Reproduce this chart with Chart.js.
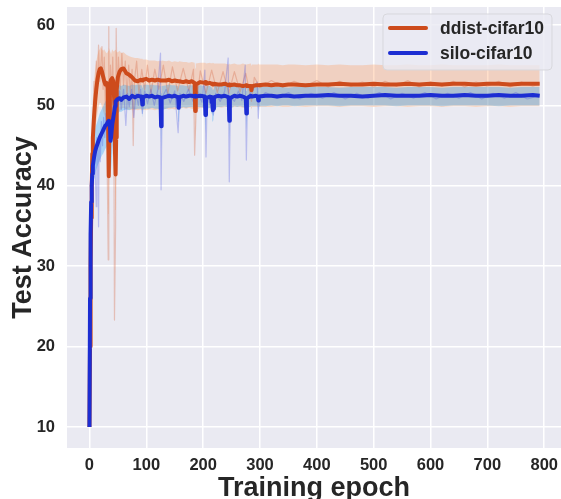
<!DOCTYPE html>
<html><head><meta charset="utf-8">
<script src="https://cdn.jsdelivr.net/npm/chart.js@4.4.0/dist/chart.umd.min.js"></script>
<style>html,body{margin:0;padding:0;background:#fff;overflow:hidden}canvas{display:block}</style>
</head><body>
<canvas id="c" width="561" height="499"></canvas>
<script>
// ---- data ----
const seriesNames = ["ddist-cifar10", "silo-cifar10"];
const xTicks = [0, 100, 200, 300, 400, 500, 600, 700, 800];
const yTicks = [10, 20, 30, 40, 50, 60];

const epochs = [0,1,2,3,4,5,6,8,10,12, 14,16,18,20,22,24,26,28,30,32, 33,34,35,36,37,38,40,42,44,45,
  46,47,48,50,53,56,60,65,70,75, 80,85,90,92,93,94,100,105,110,115, 120,125,126,127,135,140,145,150,156,157,
  158,165,170,175,180,185,186,187,195,203, 204,205,212,214,215,216,217,218,219,226, 232,238,245,246,247,255,260,265,270,275,
  276,277,284,285,286,293,296,297,298,310, 320,330,340,350,360,380,400,420,440,460, 480,500,520,540,560,580,600,620,640,660,
  680,700,720,740,760,780,792];

const ddistMean = [10,20,30,36,40,44,46,48.5,50.5,52, 53.2,54,54.5,54.6,54.2,53.6,53,52.6,52.8,52.2, 47,41.2,47,52.5,53,53.2,53.4,53,50,44,
  41.4,46,52,53.5,54.2,54.5,54.6,54,53.8,53.5, 53.1,53,53.2,53.1,53.1,53.2,53.3,53.1,53.2,53.1, 53.2,53.1,53.1,53.1,53.1,53.2,53,53.1,53,53,
  53,52.9,53,52.9,53,52.8,49.3,52.6,52.9,52.8, 52.9,52.7,52.8,52.7,52.7,52.7,52.6,52.6,52.7,52.6, 52.6,52.7,52.5,52.6,52.5,52.6,52.5,52.5,52.4,52.5,
  52.5,52.4,52.4,51.9,52.4,52.5,52.5,52.5,52.5,52.6, 52.5,52.6,52.5,52.6,52.6,52.5,52.6,52.6,52.7,52.6, 52.6,52.7,52.6,52.6,52.7,52.6,52.7,52.6,52.7,52.7,
  52.6,52.7,52.7,52.6,52.7,52.7,52.7];
const ddistUpper = [10,22,33,39,43,47.5,50.5,53,54.5,55.5, 56.2,56.8,57,57.3,57,56.8,57,56.7,56.5,56.6, 56.8,57.2,57,56.8,56.6,56.4,57,56.7,56.8,56.9,
  57,56.8,56.6,56.6,56.8,56.5,56.6,56.3,56.1,56, 55.9,55.9,55.8,55.8,55.8,55.7,55.7,55.6,55.6,55.6, 55.5,55.6,55.5,55.6,55.5,55.6,55.4,55.5,55.4,55.4,
  55.5,55.4,55.4,55.3,55.4,55.3,54.6,55.2,55.3,55.3, 55.3,55.2,55.3,55.2,55.2,55.3,55.2,55.3,55.2,55.2, 55.2,55.2,55.1,55.2,55.1,55.2,55.1,55.1,55.2,55.1,
  55.1,55.1,55.2,54.9,55.1,55.1,55.1,55.2,55.1,55.1, 55.1,55.1,55,55.1,55.1,55,55.1,55,55.1,55, 55,55.1,55,55,55.1,55,55,55.1,55,55,
  55,55,55.1,55,55,55,55];
const ddistLower = [10,18,27,33,37,41,43.5,45.5,47,48, 49,49.8,50.3,50.3,49.8,49.3,48.8,48.5,48.6,48, 42,36.5,42,47.5,48,48.2,48.4,48,45,39.5,
  37,41,47,49,49.3,49.6,49.7,49.5,49.5,49.4, 49.5,49.4,49.5,49.4,49.4,49.5,49.4,49.5,49.5,49.4, 49.5,49.4,49.5,49.5,49.6,49.5,49.6,49.5,49.6,49.6,
  49.6,49.7,49.6,49.7,49.6,49.5,45.5,49.4,49.7,49.7, 49.7,49.8,49.7,49.8,49.8,49.7,49.8,49.7,49.8,49.8, 49.7,49.8,49.8,49.8,49.7,49.8,49.8,49.8,49.7,49.8,
  49.8,49.8,49.8,49.5,49.8,49.8,49.8,49.9,49.8,49.8, 49.8,49.9,49.8,49.8,49.9,49.8,49.9,49.9,49.8,49.9, 49.9,49.8,49.9,49.9,49.8,49.9,49.9,49.8,49.9,49.9,
  49.8,49.9,49.9,49.8,49.9,49.9,49.9];

const siloMean = [10,26,34,38,40,41.5,42.5,43.5,44.3,44.8, 45.2,45.6,46,46.3,46.6,46.9,47.2,47.5,47.6,47.9, 48,48.1,48,47.5,45.6,46,47.6,48.5,49.4,49.9,
  50.5,50.6,50.7,50.8,50.9,50.7,51,51.1,50.8,51.2, 51,51.2,51.1,51.1,50.1,51,51.2,51.1,51.2,51, 51.1,51,47.4,50.9,51.1,51.2,51.1,51.2,51,49.7,
  51,51.2,51.1,51.2,51.2,51.1,51.2,51.1,51.2,51.1, 48.8,50.9,51.1,51,50.4,51,49.4,49.6,51,51.2, 51.1,51.2,51,48.1,50.9,51.2,51.1,51.2,51.1,50.9,
  49,50.9,51.2,51.1,51.1,51.2,51.1,50.6,51.1,51.2, 51.2,51.1,51.2,51.2,51.1,51.2,51.2,51.3,51.2,51.2, 51.1,51.2,51.3,51.2,51.2,51.2,51.3,51.2,51.2,51.3,
  51.2,51.2,51.3,51.2,51.2,51.3,51.2];
const siloUpper = [10,28,36.5,40.5,42.5,44,45,46,47,47.6, 48,48.5,49,49.3,49.6,49.9,50.2,50.5,50.7,50.9, 51,51.1,51,50.6,50,50.2,50.8,51.4,51.8,52,
  52.2,52.2,52.3,52.4,52.5,52.4,52.6,52.5,52.4,52.6, 52.5,52.6,52.5,52.5,52.2,52.5,52.6,52.5,52.6,52.5, 52.5,52.4,51.5,52.4,52.5,52.6,52.5,52.5,52.4,52,
  52.5,52.5,52.4,52.5,52.5,52.4,52.5,52.4,52.5,52.4, 51.8,52.4,52.4,52.3,52.2,52.3,51.9,52,52.4,52.4, 52.4,52.4,52.3,51.6,52.3,52.4,52.3,52.4,52.3,52.3,
  51.8,52.3,52.4,52.3,52.3,52.3,52.3,52.2,52.3,52.3, 52.3,52.3,52.3,52.2,52.3,52.3,52.3,52.3,52.2,52.3, 52.3,52.3,52.3,52.2,52.3,52.3,52.3,52.2,52.3,52.3,
  52.3,52.3,52.3,52.2,52.3,52.3,52.3];
const siloLower = [10,24,31.5,35.5,37.5,39,39.8,40.8,41.5,42, 42.4,42.8,43.2,43.5,43.8,44,44.3,44.6,44.8,45, 45.1,45.2,45,43.5,41.5,42,44,45.6,47,47.8,
  48.3,48.5,48.8,49,49.2,49.2,49.4,49.5,49.4,49.6, 49.5,49.6,49.6,49.6,48.5,49.5,49.6,49.6,49.7,49.6, 49.6,49.5,44.5,49.4,49.6,49.7,49.7,49.8,49.6,48,
  49.6,49.8,49.7,49.8,49.8,49.7,49.8,49.8,49.8,49.7, 46.5,49.5,49.7,49.5,49,49.5,48,48.2,49.6,49.8, 49.8,49.9,49.7,45.5,49.6,49.9,49.8,49.9,49.8,49.7,
  47,49.6,49.9,49.9,49.9,49.9,49.9,49.3,49.9,49.9, 50,49.9,50,50,49.9,50,50,50,49.9,50, 50,50,50,49.9,50,50,50,49.9,50,50,
  50,50,49.9,50,50,50,50];

const ddistRawEpochs = [0,2,4,6,8,10,12,14,16,18, 20,22,24,26,28,30,31,33,34,35, 37,39,41,43,44,46,47,49,51,54,
  57,60,63,66,69,72,75,77,79,83, 87,92,97,102,108,115,122,130,138,146, 155,165,175,183,185,188,195,205,215,225,
  235,245,255,265,275,285,290,300,320,340, 360,380,400,420,440,460,480,500,520,540, 560,580,600,620,640,660,680,700,720,740, 760,780,792];
const ddistRaw = [10,29,41,48,53,49,55.5,51.5,57.5,53, 55,57.3,52,56,50,47,44,30.8,59.8,45, 55,51,56,47,23.3,35,59.6,50,56,52,
  56.5,52.5,55.5,51,55,51.5,54.5,45,53,55.5, 51.5,54.5,52,55,51.5,54.5,52,55,51.5,54.8, 51.8,54.6,51.8,54.5,43.8,50,54.3,51.5,54.4,51.6,
  54.2,51.5,54.2,51.7,54,50.5,53.5,52.2,53.1,52.3, 53,52.4,53.1,52.3,53,52.4,52.9,52.3,53,52.4, 53.1,52.3,52.9,52.4,53,52.3,52.9,52.4,53,52.3, 52.9,52.4,52.7];

const siloRawEpochs = [0,2,4,6,8,10,12,13,15,16, 17,19,21,23,25,27,29,31,33,35, 37,39,41,43,45,47,50,53,56,60,
  64,67,70,74,78,82,86,90,93,97, 102,108,114,120,125,126,128,135,142,150, 156,159,166,174,182,190,198,203,205,207,
  213,218,222,230,238,244,246,248,255,262, 268,274,276,278,286,295,297,299,310,330, 350,370,390,410,430,450,470,490,510,530,
  550,570,590,610,630,650,670,690,710,730, 750,770,792];
const siloRaw = [10,30,40,41,45,42,37.4,46,44,34.9, 46,43,48,45,48.5,46,49,47,50,46.5, 44,49,47.5,51,49.5,52,50,51.8,49.5,52,
  47.5,51.5,49.8,52,48.5,51.5,50,52,49,51.8, 50.2,52,50,51.8,56.5,39.5,51,52,50.3,51.8, 46.6,51.5,50.5,52,50.5,51.8,50.4,54.4,43.6,51,
  50,48.8,51.5,50.5,51.8,55.9,40.5,51,50.5,51.8, 50.6,55,43.2,51,51.8,52.9,48.4,51,51.6,50.9, 51.6,50.8,51.5,50.9,51.6,50.8,51.5,50.9,51.6,50.8,
  51.5,50.9,51.6,50.8,51.5,50.9,51.6,50.8,51.5,50.9, 51.6,50.8,51.2];

// ---- styles ----
const ORANGE = '#CD4B1C';
const BLUE = '#1C2DD2';
const FONT = '"Liberation Sans", Arial, sans-serif';
const TEXT = '#262626';

const pts = (xs, ys) => xs.map((x, i) => ({x: x, y: ys[i]}));

const bgPlugin = {
  id: 'bg',
  beforeDraw(chart) {
    const {ctx, chartArea: a} = chart;
    ctx.save();
    ctx.fillStyle = '#EAEAF2';
    ctx.fillRect(a.left, a.top, a.right - a.left, a.bottom - a.top);
    ctx.restore();
  }
};

const decoPlugin = {
  id: 'deco',
  afterDraw(chart) {
    const ctx = chart.ctx;
    const a = chart.chartArea;
    ctx.save();
    ctx.fillStyle = TEXT;
    ctx.font = 'bold 27px ' + FONT;
    ctx.textAlign = 'center';
    ctx.textBaseline = 'alphabetic';
    ctx.fillText('Training epoch', (a.left + a.right) / 2, 496);
    ctx.save();
    ctx.translate(31, (a.top + a.bottom) / 2);
    ctx.rotate(-Math.PI / 2);
    ctx.fillText('Test Accuracy', 0, 0);
    ctx.restore();
    // legend
    const bx = 383, by = 14, bw = 169, bh = 56, r = 4;
    ctx.beginPath();
    ctx.moveTo(bx + r, by);
    ctx.arcTo(bx + bw, by, bx + bw, by + bh, r);
    ctx.arcTo(bx + bw, by + bh, bx, by + bh, r);
    ctx.arcTo(bx, by + bh, bx, by, r);
    ctx.arcTo(bx, by, bx + bw, by, r);
    ctx.closePath();
    ctx.fillStyle = 'rgba(234,234,242,0.8)';
    ctx.fill();
    ctx.strokeStyle = 'rgba(214,214,218,0.9)';
    ctx.lineWidth = 1;
    ctx.stroke();
    const items = [[seriesNames[0], ORANGE, 28], [seriesNames[1], BLUE, 53]];
    ctx.font = 'bold 17.5px ' + FONT;
    ctx.textAlign = 'left';
    ctx.textBaseline = 'middle';
    for (const [label, col, y] of items) {
      ctx.strokeStyle = col;
      ctx.lineWidth = 4;
      ctx.lineCap = 'round';
      ctx.beginPath();
      ctx.moveTo(390, y);
      ctx.lineTo(426, y);
      ctx.stroke();
      ctx.fillStyle = TEXT;
      ctx.fillText(label, 440, y + 1);
    }
    ctx.restore();
  }
};

const lineDefaults = {pointRadius: 0, pointHoverRadius: 0, tension: 0, fill: false, borderJoinStyle: 'round'};

new Chart(document.getElementById('c'), {
  type: 'line',
  data: {
    datasets: [
      Object.assign({}, lineDefaults, {label: 'ddistUpper', data: pts(epochs, ddistUpper), borderWidth: 0, borderColor: 'rgba(0,0,0,0)', fill: '+1', backgroundColor: 'rgba(255,150,80,0.3)', order: 7}),
      Object.assign({}, lineDefaults, {label: 'ddistLower', data: pts(epochs, ddistLower), borderWidth: 0, borderColor: 'rgba(0,0,0,0)', order: 6}),
      Object.assign({}, lineDefaults, {label: 'siloUpper', data: pts(epochs, siloUpper), borderWidth: 0, borderColor: 'rgba(0,0,0,0)', fill: '+1', backgroundColor: 'rgba(20,155,250,0.3)', order: 5}),
      Object.assign({}, lineDefaults, {label: 'siloLower', data: pts(epochs, siloLower), borderWidth: 0, borderColor: 'rgba(0,0,0,0)', order: 4}),
      Object.assign({}, lineDefaults, {label: 'ddistRaw', data: pts(ddistRawEpochs, ddistRaw), borderWidth: 1.2, borderColor: 'rgba(215,110,75,0.35)', order: 3}),
      Object.assign({}, lineDefaults, {label: 'siloRaw', data: pts(siloRawEpochs, siloRaw), borderWidth: 1.2, borderColor: 'rgba(70,80,225,0.3)', order: 2}),
      Object.assign({}, lineDefaults, {label: seriesNames[0], data: pts(epochs, ddistMean), borderWidth: 4, borderColor: ORANGE, order: 1}),
      Object.assign({}, lineDefaults, {label: seriesNames[1], data: pts(epochs, siloMean), borderWidth: 4, borderColor: BLUE, order: 0})
    ]
  },
  options: {
    responsive: false,
    devicePixelRatio: 1,
    animation: false,
    events: [],
    layout: {padding: {top: 7, left: 0, right: 0, bottom: 0}},
    plugins: {legend: {display: false}, tooltip: {enabled: false}},
    scales: {
      x: {
        type: 'linear', min: -39.5, max: 829.5,
        afterBuildTicks(s) { s.ticks = xTicks.map(v => ({value: v})); },
        afterFit(s) { s.height = 51; s.paddingLeft = 0; s.paddingRight = 0; },
        grid: {color: '#FFFFFF', lineWidth: 1.5, drawTicks: false},
        border: {display: false},
        ticks: {padding: 8, color: TEXT, font: {family: FONT, size: 16.5, weight: 'bold'}, maxRotation: 0, autoSkip: false}
      },
      y: {
        type: 'linear', min: 7.39, max: 62.24,
        afterBuildTicks(s) { s.ticks = yTicks.map(v => ({value: v})); },
        afterFit(s) { s.width = 67; s.paddingTop = 0; s.paddingBottom = 0; },
        grid: {color: '#FFFFFF', lineWidth: 1.5, drawTicks: false},
        border: {display: false},
        ticks: {padding: 12, color: TEXT, font: {family: FONT, size: 16.5, weight: 'bold'}}
      }
    }
  },
  plugins: [bgPlugin, decoPlugin]
});
</script>
</body></html>
